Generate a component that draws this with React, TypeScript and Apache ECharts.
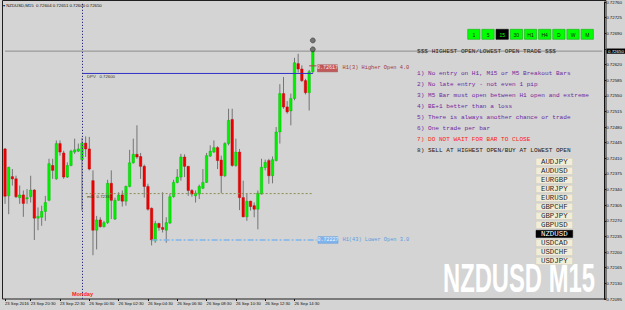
import React, { useEffect, useRef } from 'react';
import * as echarts from 'echarts';

// ---- bar data (NZDUSD M15, first bar 23 Sep 18:45) ----
const opens = [
  0.72431, 0.72326, 0.72369, 0.72364, 0.72322, 0.72328, 0.72319, 0.72324, 0.72339, 0.72276,
  0.72278, 0.72291, 0.72316, 0.72394, 0.72364, 0.72443, 0.72422, 0.72368, 0.72394, 0.72424,
  0.72426, 0.72407, 0.72444, 0.72431, 0.72360, 0.72249, 0.72272, 0.72257, 0.72266, 0.72354,
  0.72274, 0.72316, 0.72328, 0.72314, 0.72347, 0.72400, 0.72419, 0.72414, 0.72392, 0.72347,
  0.72298, 0.72225, 0.72264, 0.72255, 0.72249, 0.72265, 0.72324, 0.72356, 0.72368, 0.72413,
  0.72392, 0.72338, 0.72326, 0.72330, 0.72343, 0.72356, 0.72415, 0.72424, 0.72434, 0.72406,
  0.72371, 0.72443, 0.72497, 0.72394, 0.72424, 0.72322, 0.72279, 0.72314, 0.72304, 0.72296,
  0.72330, 0.72389, 0.72405, 0.72371, 0.72405, 0.72469, 0.72555, 0.72525, 0.72516, 0.72544,
  0.72622, 0.72610, 0.72584, 0.72557, 0.72604,
];
const highs = [
  0.72433, 0.72391, 0.72386, 0.72371, 0.72349, 0.72338, 0.72341, 0.72371, 0.72341, 0.72300,
  0.72304, 0.72326, 0.72409, 0.72409, 0.72450, 0.72450, 0.72427, 0.72401, 0.72429, 0.72454,
  0.72443, 0.72456, 0.72459, 0.72458, 0.72383, 0.72281, 0.72278, 0.72270, 0.72362, 0.72383,
  0.72322, 0.72334, 0.72338, 0.72349, 0.72429, 0.72454, 0.72484, 0.72422, 0.72396, 0.72353,
  0.72300, 0.72270, 0.72266, 0.72334, 0.72278, 0.72330, 0.72362, 0.72386, 0.72420, 0.72419,
  0.72393, 0.72341, 0.72338, 0.72351, 0.72386, 0.72422, 0.72439, 0.72450, 0.72437, 0.72416,
  0.72446, 0.72521, 0.72521, 0.72454, 0.72431, 0.72360, 0.72330, 0.72315, 0.72311, 0.72338,
  0.72409, 0.72407, 0.72409, 0.72414, 0.72480, 0.72576, 0.72592, 0.72538, 0.72555, 0.72635,
  0.72644, 0.72618, 0.72588, 0.72608, 0.72651,
];
const lows = [
  0.72308, 0.72285, 0.72349, 0.72321, 0.72308, 0.72279, 0.72308, 0.72311, 0.72227, 0.72249,
  0.72259, 0.72270, 0.72314, 0.72364, 0.72362, 0.72416, 0.72364, 0.72366, 0.72392, 0.72420,
  0.72424, 0.72293, 0.72413, 0.72383, 0.72193, 0.72206, 0.72255, 0.72255, 0.72263, 0.72274,
  0.72272, 0.72315, 0.72302, 0.72304, 0.72345, 0.72398, 0.72409, 0.72364, 0.72322, 0.72293,
  0.72215, 0.72221, 0.72248, 0.72244, 0.72221, 0.72263, 0.72322, 0.72354, 0.72360, 0.72368,
  0.72326, 0.72324, 0.72311, 0.72319, 0.72341, 0.72355, 0.72413, 0.72422, 0.72386, 0.72332,
  0.72368, 0.72439, 0.72391, 0.72391, 0.72294, 0.72278, 0.72270, 0.72293, 0.72278, 0.72251,
  0.72329, 0.72383, 0.72353, 0.72354, 0.72403, 0.72443, 0.72521, 0.72510, 0.72484, 0.72540,
  0.72602, 0.72581, 0.72553, 0.72517, 0.72600,
];
const closes = [
  0.72325, 0.72390, 0.72364, 0.72324, 0.72328, 0.72309, 0.72322, 0.72339, 0.72276, 0.72280,
  0.72291, 0.72311, 0.72398, 0.72383, 0.72443, 0.72424, 0.72368, 0.72394, 0.72426, 0.72429,
  0.72431, 0.72444, 0.72431, 0.72386, 0.72249, 0.72272, 0.72257, 0.72266, 0.72354, 0.72316,
  0.72316, 0.72328, 0.72314, 0.72347, 0.72400, 0.72419, 0.72413, 0.72392, 0.72347, 0.72296,
  0.72227, 0.72264, 0.72255, 0.72251, 0.72266, 0.72324, 0.72356, 0.72368, 0.72413, 0.72392,
  0.72338, 0.72330, 0.72332, 0.72347, 0.72356, 0.72416, 0.72426, 0.72434, 0.72405, 0.72371,
  0.72443, 0.72495, 0.72394, 0.72424, 0.72322, 0.72279, 0.72314, 0.72302, 0.72296, 0.72332,
  0.72390, 0.72401, 0.72371, 0.72407, 0.72469, 0.72555, 0.72525, 0.72514, 0.72544, 0.72624,
  0.72610, 0.72584, 0.72557, 0.72604, 0.72650,
];

// ---- axes ----
const xTickLabels = ['23 Sep 2016', '23 Sep 20:30', '23 Sep 22:30', '26 Sep 00:30', '26 Sep 02:30',
  '26 Sep 04:30', '26 Sep 06:30', '26 Sep 08:30', '26 Sep 10:30', '26 Sep 12:30', '26 Sep 14:30'];
const xTickBars = [0, 7, 15, 23, 31, 39, 47, 55, 63, 71, 79];
const totalSlots = 164;
const mondayBar = 21;
const yMin = 0.72095;
const yMax = 0.7276;
const yStep = 0.00035;

// ---- levels ----
const bidPrice = 0.7265;
const dpvLevel = 0.726;
const dpvBars = [21, 84];
const m0Level = 0.72331;
const m0Bars = [22, 84];
const higherOpen = 0.72617;
const higherOpenBars = [83, 85];
const lowerOpen = 0.72227;
const lowerOpenBars = [40, 85];
const markerBar = 84;
const markerLevels = [0.72674, 0.72654];

// ---- panel texts ----
const headerText = 'NZDUSD,M15  0.72604 0.72651 0.72600 0.72650';
const timeframes = ['1', '5', '15', '30', 'H1', 'H4', 'D', 'W', 'M'];
const activeTimeframe = '15';
const symbols = ['AUDJPY', 'AUDUSD', 'EURGBP', 'EURJPY', 'EURUSD', 'GBPCHF', 'GBPJPY', 'GBPUSD', 'NZDUSD', 'USDCAD', 'USDCHF', 'USDJPY'];
const activeSymbol = 'NZDUSD';
const titleText = '$$$ HIGHEST OPEN/LOWEST OPEN TRADE $$$';
const rules = [
  '1) No entry on H1, M15 or M5 Breakout Bars',
  '2) No late entry - not even 1 pip',
  '3) M5 Bar must open between H1 open and extreme',
  '4) BE+1 better than a loss',
  '5) There is always another chance or trade',
  '6) One trade per bar',
  '7) DO NOT WAIT FOR BAR TO CLOSE',
  '8) SELL AT HIGHEST OPEN/BUY AT LOWEST OPEN',
];
const ruleColors = ['#6e28a0', '#6e28a0', '#6e28a0', '#6e28a0', '#6e28a0', '#6e28a0', '#ff1a1a', '#1a1a1a'];

const SANS = 'Liberation Sans, Arial, sans-serif';
const MONO = 'Liberation Mono, DejaVu Sans Mono, monospace';

export default function App() {
  const ref = useRef<HTMLDivElement>(null);
  useEffect(() => {
    if (!ref.current) return;
    document.body.style.margin = '0';
    const chart = echarts.init(ref.current, undefined, { renderer: 'svg' });

    const categories = Array.from({ length: totalSlots }, (_, i) => {
      const k = xTickBars.indexOf(i);
      return k >= 0 ? xTickLabels[k] : '#' + i;
    });
    const showTick = (idx: number) => xTickBars.indexOf(idx) >= 0;
    const candleData = opens.map((o, i) => [i, o, closes[i], lows[i], highs[i]]);

    const graphics: any[] = [];
    // frame
    graphics.push({ type: 'rect', shape: { x: 2.5, y: 0.5, width: 603.5, height: 298.5 }, style: { fill: 'none', stroke: '#202020', lineWidth: 1 }, z: 1 });
    // header
    graphics.push({ type: 'text', x: 3, y: 5, style: { text: '\u25BE ' + headerText, fontSize: 4.3, fontFamily: SANS, fill: '#111', verticalAlign: 'middle' }, z: 10 });
    // timeframe buttons
    timeframes.forEach((tf, i) => {
      const x = 467.7 + i * 14.17;
      const act = tf === activeTimeframe;
      graphics.push({ type: 'rect', shape: { x, y: 29.3, width: 12.3, height: 10 }, style: { fill: act ? '#000' : '#00ff00', stroke: act ? '#000' : '#18a818', lineWidth: 0.6 }, z: 10 });
      graphics.push({ type: 'text', x: x + 6.15, y: 34.5, style: { text: tf, fontSize: 5, fontFamily: SANS, fill: act ? '#00ff00' : '#1a1a1a', align: 'center', verticalAlign: 'middle' }, z: 11 });
    });
    // title + rules
    graphics.push({ type: 'text', x: 417, y: 51, style: { text: titleText, fontSize: 6.1, fontFamily: MONO, fill: '#1e1e1e', verticalAlign: 'middle' }, z: 10 });
    const ruleY = [73.3, 84.2, 95.2, 106.2, 117.3, 128.3, 139.2, 150.2];
    rules.forEach((r, i) => {
      graphics.push({ type: 'text', x: 417, y: ruleY[i], style: { text: r, fontSize: 6.1, fontFamily: MONO, fill: ruleColors[i], verticalAlign: 'middle' }, z: 10 });
    });
    // symbol buttons
    symbols.forEach((s, i) => {
      const y = 158.3 + i * 9.0;
      const act = s === activeSymbol;
      graphics.push({ type: 'rect', shape: { x: 536, y, width: 36.7, height: 7.2 }, style: { fill: act ? '#000' : '#f1edd9', stroke: act ? '#000' : '#d0ccb8', lineWidth: 0.5 }, z: 10 });
      graphics.push({ type: 'text', x: 554.3, y: y + 3.8, style: { text: s, fontSize: 7.4, fontFamily: MONO, fill: act ? '#fff' : '#2a2a2a', align: 'center', verticalAlign: 'middle' }, z: 11 });
    });
    // big watermark
    graphics.push({ type: 'text', x: 443, y: 277.5, scaleX: 0.58, style: { text: 'NZDUSD M15', fontSize: 41, fontWeight: 'bold', fontFamily: SANS, fill: '#ffffff', verticalAlign: 'middle' }, z: 2 });
    // level labels
    graphics.push({ type: 'text', x: 87, y: 76, style: { text: 'DPV   ' + dpvLevel.toFixed(5), fontSize: 4.3, fontFamily: SANS, fill: '#3a3a20', verticalAlign: 'middle' }, z: 10 });
    graphics.push({ type: 'text', x: 87, y: 196, style: { text: 'm0   ' + m0Level.toFixed(5), fontSize: 4.3, fontFamily: SANS, fill: '#3a3a20', verticalAlign: 'middle' }, z: 10 });
    graphics.push({ type: 'rect', shape: { x: 317.5, y: 64.8, width: 20, height: 7 }, style: { fill: '#c05a5a', stroke: '#a04040', lineWidth: 0.5 }, z: 10 });
    graphics.push({ type: 'text', x: 327.5, y: 68.4, style: { text: higherOpen.toFixed(5), fontSize: 5, fontFamily: MONO, fill: '#ffe6e6', align: 'center', verticalAlign: 'middle' }, z: 11 });
    graphics.push({ type: 'text', x: 342.5, y: 68.4, style: { text: 'H1(3) Higher Open 4.0', fontSize: 5.3, fontFamily: MONO, fill: '#a03838', verticalAlign: 'middle' }, z: 10 });
    graphics.push({ type: 'rect', shape: { x: 318, y: 236.7, width: 20, height: 6.6 }, style: { fill: '#80b4ec', stroke: '#5a94d8', lineWidth: 0.5 }, z: 10 });
    graphics.push({ type: 'text', x: 328, y: 240.1, style: { text: lowerOpen.toFixed(5), fontSize: 5, fontFamily: MONO, fill: '#eef6ff', align: 'center', verticalAlign: 'middle' }, z: 11 });
    graphics.push({ type: 'text', x: 342.5, y: 240.1, style: { text: 'H1(43) Lower Open 3.0', fontSize: 5.3, fontFamily: MONO, fill: '#5d9ae0', verticalAlign: 'middle' }, z: 10 });
    // Monday
    graphics.push({ type: 'text', x: 82.5, y: 294.2, style: { text: 'Monday', fontSize: 5.6, fontWeight: 'bold', fontFamily: SANS, fill: '#ff1a1a', align: 'center', verticalAlign: 'middle' }, z: 10 });

    const lineSeries = (name: string, bars: number[], level: number, color: string, type: any, width: number, extra: any = {}) => ({
      name, type: 'line', silent: true, symbol: 'none', z: 4,
      data: [[bars[0], level], [bars[1], level]],
      lineStyle: { color, type, width },
      ...extra,
    });

    chart.setOption({
      animation: false,
      backgroundColor: '#d4d4d4',
      grid: { left: 3.2, right: 19, top: 1, bottom: 11 },
      xAxis: {
        type: 'category', data: categories, boundaryGap: true,
        axisLine: { show: false },
        axisTick: { show: true, interval: showTick, alignWithLabel: true, length: 2, lineStyle: { color: '#111' } },
        axisLabel: { interval: showTick, formatter: (v: string) => v, fontSize: 4.2, fontFamily: SANS, color: '#111', align: 'left', margin: 2.5 },
        splitLine: { show: false },
      },
      yAxis: {
        type: 'value', position: 'right', min: yMin, max: yMax, interval: yStep,
        axisLine: { show: true, lineStyle: { color: '#111', width: 1 } },
        axisTick: { show: true, length: 2, lineStyle: { color: '#111' } },
        axisLabel: {
          fontSize: 4.4, fontFamily: SANS, color: '#111', margin: 2, showMinLabel: true, showMaxLabel: true,
          // the tick under the current-price box is covered, as in the terminal
          formatter: (v: number) => (Math.abs(v - bidPrice) < yStep / 3 ? '' : v.toFixed(5)),
        },
        splitLine: { show: false },
      },
      series: [
        {
          type: 'line', name: 'bid', silent: true, symbol: 'none', z: 2,
          data: [[0, bidPrice], [totalSlots - 1, bidPrice]],
          lineStyle: { color: '#8c8c8c', width: 1 },
          markLine: {
            silent: true, symbol: ['none', 'none'], animation: false,
            lineStyle: { color: '#8c8c8c', type: 'solid', width: 1 },
            label: { show: false },
            data: [{ yAxis: bidPrice }],
          },
        },
        {
          type: 'custom', name: 'bars', z: 3,
          data: candleData,
          encode: { x: 0, y: [1, 2, 3, 4] },
          renderItem: (params: any, api: any) => {
            const x = api.value(0);
            const o = api.value(1), c = api.value(2), l = api.value(3), h = api.value(4);
            const po = api.coord([x, o]);
            const pc = api.coord([x, c]);
            const pl = api.coord([x, l]);
            const ph = api.coord([x, h]);
            const w = api.size([1, 0])[0] * 0.68;
            const top = Math.min(po[1], pc[1]);
            const bot = Math.max(po[1], pc[1]);
            const bull = c >= o;
            return {
              type: 'group',
              children: [
                { type: 'line', shape: { x1: ph[0], y1: ph[1], x2: pl[0], y2: pl[1] }, style: { stroke: '#747474', lineWidth: 1 } },
                { type: 'rect', shape: { x: ph[0] - w / 2, y: top, width: w, height: Math.max(1, bot - top) }, style: { fill: bull ? '#00f000' : '#f00000', stroke: bull ? '#00b400' : '#b40000', lineWidth: 0.4 } },
              ],
            };
          },
        },
        lineSeries('dpv', dpvBars, dpvLevel, '#3232c8', 'solid', 1, {
          markLine: {
            silent: true, symbol: ['none', 'none'], animation: false,
            lineStyle: { color: '#2a2a7a', type: [1.2, 1.8], width: 1 },
            label: { show: false },
            data: [{ xAxis: mondayBar }],
          },
        }),
        lineSeries('m0', m0Bars, m0Level, '#8c8c50', [2, 2], 1),
        lineSeries('higherOpen', higherOpenBars, higherOpen, '#b04040', 'solid', 1),
        lineSeries('lowerOpen', lowerOpenBars, lowerOpen, '#7fb4ee', [6, 2, 2, 2], 1.4),
        {
          type: 'scatter', name: 'markers', silent: true, z: 6,
          data: markerLevels.map((v) => [markerBar, v]),
          symbol: 'circle', symbolSize: 5,
          itemStyle: { color: '#5a5a5a', borderColor: '#1e1e1e', borderWidth: 0.6 },
        },
      ],
      graphic: graphics,
    });

    // current price box on the price scale, positioned through the y axis
    const bidY = chart.convertToPixel({ yAxisIndex: 0 }, bidPrice) as number;
    const withBox = graphics.concat([
      { type: 'rect', shape: { x: 606.5, y: bidY - 2.6, width: 18.5, height: 5.2 }, style: { fill: '#000' }, z: 20 },
      { type: 'text', x: 608, y: bidY, style: { text: bidPrice.toFixed(5), fontSize: 4.4, fontFamily: SANS, fill: '#fff', verticalAlign: 'middle' }, z: 21 },
    ]);
    chart.setOption({ graphic: withBox });
    return () => chart.dispose();
  }, []);
  return <div ref={ref} style={{ position: 'fixed', left: 0, top: 0, width: 625, height: 310 }} />;
}
